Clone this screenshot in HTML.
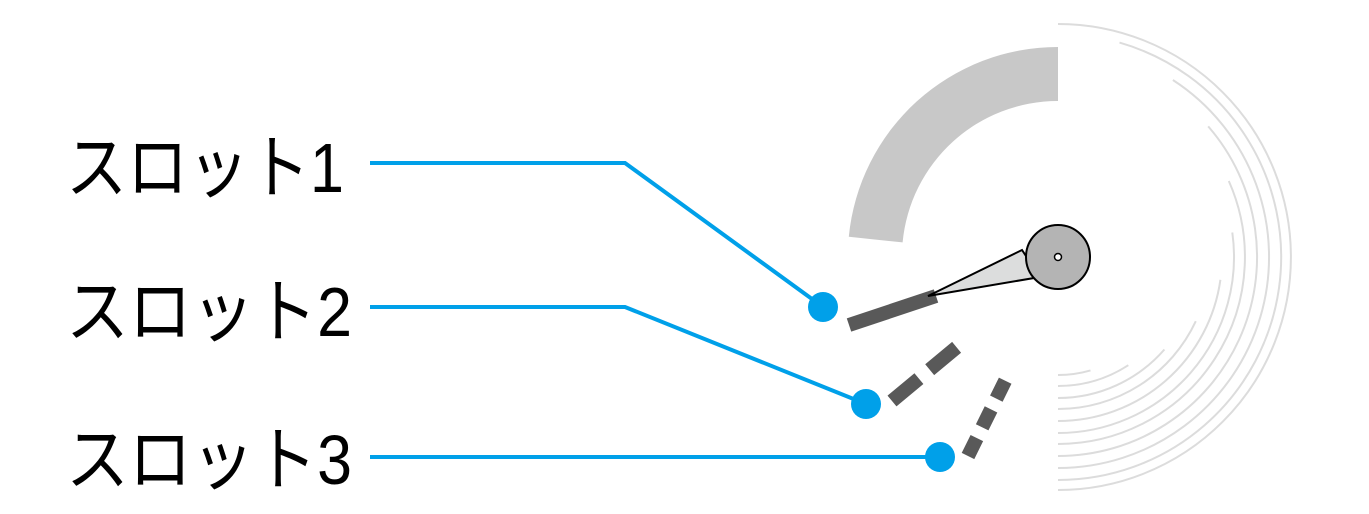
<!DOCTYPE html>
<html><head><meta charset="utf-8"><style>html,body{margin:0;padding:0;background:#fff}svg{display:block}</style></head>
<body>
<svg width="1369" height="514" viewBox="0 0 1369 514" xmlns="http://www.w3.org/2000/svg">
<g fill="none" stroke="#dcdcdc" stroke-width="2">
<path d="M1058 24 A233 233 0 0 1 1058 490"/>
<path d="M1119.5 42.6 A223 223 0 0 1 1058 480"/>
<path d="M1172.9 80 A211 211 0 0 1 1058 468"/>
<path d="M1208.2 126.4 A199 199 0 0 1 1058 456"/>
<path d="M1228.8 181 A187 187 0 0 1 1058 444"/>
<path d="M1232.3 232.5 A176 176 0 0 1 1058 433"/>
<path d="M1220.4 279.8 A164 164 0 0 1 1058 421"/>
<path d="M1195.8 321.2 A152 152 0 0 1 1058 409"/>
<path d="M1164.4 349.5 A141 141 0 0 1 1058 398"/>
<path d="M1128.3 365.2 A129 129 0 0 1 1058 386"/>
<path d="M1090.5 370.4 A118 118 0 0 1 1058 375"/>
</g>
<path d="M1058 47 L1058 101 A156 156 0 0 0 902.6 242.4 L848.8 236.7 A210 210 0 0 1 1058 47 Z" fill="#c8c8c8"/>
<g stroke="#00a0e9" stroke-width="4" fill="none">
<polyline points="370,163 625,163 823,307"/>
<polyline points="370,307 625,307 866,404"/>
<polyline points="370,457 940,457"/>
</g>
<g fill="#00a0e9">
<circle cx="823" cy="307" r="15"/>
<circle cx="866" cy="404" r="15"/>
<circle cx="940" cy="457" r="15"/>
</g>
<line x1="849" y1="325" x2="936" y2="296" stroke="#595959" stroke-width="14"/>
<line x1="892" y1="401" x2="963" y2="342" stroke="#595959" stroke-width="14" stroke-dasharray="35,14"/>
<line x1="968" y1="456" x2="1008" y2="375" stroke="#595959" stroke-width="14" stroke-dasharray="20,12"/>
<path d="M928 296 L1022 250 L1040 277 Z" fill="#dcdddd" stroke="#000" stroke-width="2"/>
<circle cx="1058" cy="257" r="32" fill="#b4b4b4" stroke="#000" stroke-width="2"/>
<circle cx="1058" cy="257" r="3.5" fill="#fff" stroke="#000" stroke-width="1.5"/>
<g font-family="'Liberation Sans','Noto Sans CJK JP',sans-serif" font-size="70" fill="#000">
<text x="66" y="192" textLength="278" lengthAdjust="spacingAndGlyphs">スロット1</text>
<text x="66" y="336" textLength="286" lengthAdjust="spacingAndGlyphs">スロット2</text>
<text x="66" y="484" textLength="286" lengthAdjust="spacingAndGlyphs">スロット3</text>
</g>
</svg>
</body></html>
